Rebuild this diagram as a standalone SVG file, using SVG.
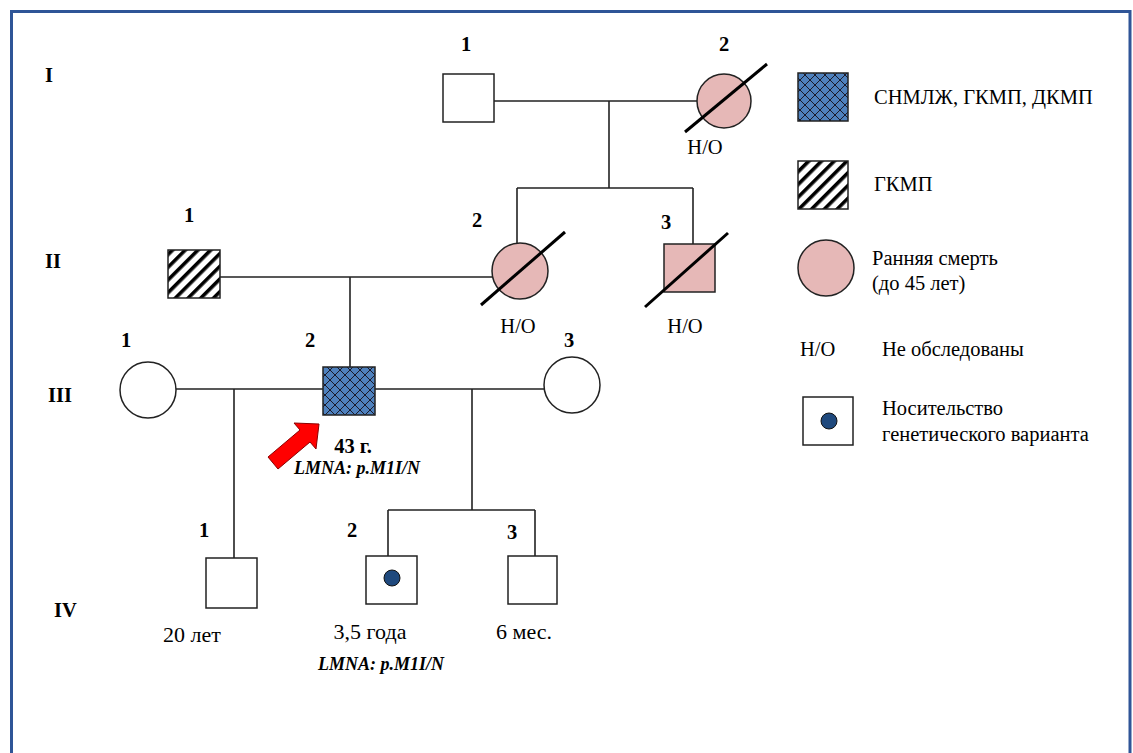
<svg xmlns="http://www.w3.org/2000/svg" width="1133" height="753" viewBox="0 0 1133 753">
<defs>
<pattern id="cross" patternUnits="userSpaceOnUse" width="10" height="10">
<rect width="10" height="10" fill="#4F81BD"/>
<path d="M0,0 L10,10 M10,0 L0,10" stroke="#1a1a2a" stroke-width="1" fill="none"/>
</pattern>
<pattern id="stripe" patternUnits="userSpaceOnUse" width="9" height="9" patternTransform="rotate(-45)">
<rect width="9" height="9" fill="#fff"/>
<rect x="0" y="0" width="9" height="3.6" fill="#000"/>
</pattern>
</defs>
<style>
.t{font-family:"Liberation Serif","Times New Roman",serif;font-size:20.5px;fill:#000}
.b{font-weight:bold}
.a{font-size:22px}
.i{font-style:italic;font-weight:bold;font-size:18px}
.c{text-anchor:middle}
.ln{stroke:#222;stroke-width:1.6;fill:none}
.sh{stroke:#222;stroke-width:1.5}
.sl{stroke:#000;stroke-width:3}
.pk{fill:#E6B8B7}
.wt{fill:#fff}
</style>
<rect x="0" y="0" width="1133" height="753" fill="#fff"/>
<path d="M11.5,760 L11.5,11.5 L1130,11.5 L1130,760" fill="none" stroke="#2F5597" stroke-width="3"/>
<g id="gen-labels">
<text class="t b" x="45" y="82">I</text>
<text class="t b" x="45" y="268">II</text>
<text class="t b" x="48" y="402">III</text>
<text class="t b" x="54" y="617">IV</text>
</g>
<g id="connectors">
<path class="ln" d="M494,101 H697 M609,101 V188 M517,188 H693 M517,188 V244 M693,188 V244"/>
<path class="ln" d="M220,277 H492 M350,277 V367"/>
<path class="ln" d="M176,389 H323 M234,389 V558 M375,389 H545 M472,389 V510 M388,510 H535 M388,510 V556 M535,510 V556"/>
</g>
<g id="I-1">
<text class="t b c" x="466" y="51">1</text>
<rect class="sh wt" x="443" y="74" width="51" height="48"/>
</g>
<g id="I-2">
<text class="t b c" x="724" y="51">2</text>
<circle class="sh pk" cx="724" cy="101" r="27"/>
<line class="sl" x1="685" y1="132" x2="767" y2="64"/>
<text class="t c" x="705" y="154">Н/О</text>
</g>
<g id="II-1">
<text class="t b c" x="189" y="222">1</text>
<rect class="sh" fill="url(#stripe)" x="168" y="250" width="52" height="48"/>
</g>
<g id="II-2">
<text class="t b c" x="477" y="227">2</text>
<circle class="sh pk" cx="520" cy="271" r="28"/>
<line class="sl" x1="481" y1="305" x2="565" y2="232"/>
<text class="t c" x="518" y="333">Н/О</text>
</g>
<g id="II-3">
<text class="t b c" x="666" y="229">3</text>
<rect class="sh pk" x="664" y="244" width="51" height="48"/>
<line class="sl" x1="645" y1="307" x2="728" y2="233"/>
<text class="t c" x="685" y="333">Н/О</text>
</g>
<g id="III-1">
<text class="t b c" x="126" y="347">1</text>
<circle class="sh wt" cx="148" cy="390" r="28"/>
</g>
<g id="III-2">
<text class="t b c" x="310" y="347">2</text>
<rect class="sh" fill="url(#cross)" x="323" y="367" width="52" height="48"/>
<text class="t b c" x="353" y="453">43 г.</text>
<text class="t i c" x="357" y="474">LMNA: p.M1I/N</text>
</g>
<g id="proband-arrow">
<path d="M268,457 L300,430 L294,423 L319,424 L316,449 L310,442 L278,469 Z" fill="#FF0000" stroke="#8B0000" stroke-width="1"/>
</g>
<g id="III-3">
<text class="t b c" x="569" y="347">3</text>
<circle class="sh wt" cx="572" cy="385" r="28"/>
</g>
<g id="IV-1">
<text class="t b c" x="204" y="537">1</text>
<rect class="sh wt" x="206" y="558" width="51" height="50"/>
<text class="t a c" x="192" y="642">20 лет</text>
</g>
<g id="IV-2">
<text class="t b c" x="352" y="537">2</text>
<rect class="sh wt" x="366" y="556" width="51" height="48"/>
<circle cx="392" cy="578" r="8" fill="#1F497D" stroke="#111" stroke-width="1"/>
<text class="t a c" x="370" y="639">3,5 года</text>
<text class="t i c" x="381" y="670">LMNA: p.M1I/N</text>
</g>
<g id="IV-3">
<text class="t b c" x="512" y="539">3</text>
<rect class="sh wt" x="508" y="556" width="49" height="48"/>
<text class="t a c" x="524" y="639">6 мес.</text>
</g>
<g id="legend">
<rect class="sh" fill="url(#cross)" x="798" y="73" width="50" height="48"/>
<text class="t" x="874" y="104">СНМЛЖ, ГКМП, ДКМП</text>
<rect class="sh" fill="url(#stripe)" x="798" y="161" width="50" height="48"/>
<text class="t" x="874" y="191">ГКМП</text>
<circle class="sh pk" cx="826" cy="268" r="28"/>
<text class="t" x="872" y="265">Ранняя смерть</text>
<text class="t" x="872" y="290">(до 45 лет)</text>
<text class="t" x="800" y="356">Н/О</text>
<text class="t" x="882" y="356">Не обследованы</text>
<rect class="sh wt" x="803" y="397" width="50" height="48"/>
<circle cx="829" cy="421" r="8" fill="#1F497D" stroke="#111" stroke-width="1"/>
<text class="t" x="882" y="415">Носительство</text>
<text class="t" x="882" y="441">генетического варианта</text>
</g>
</svg>
